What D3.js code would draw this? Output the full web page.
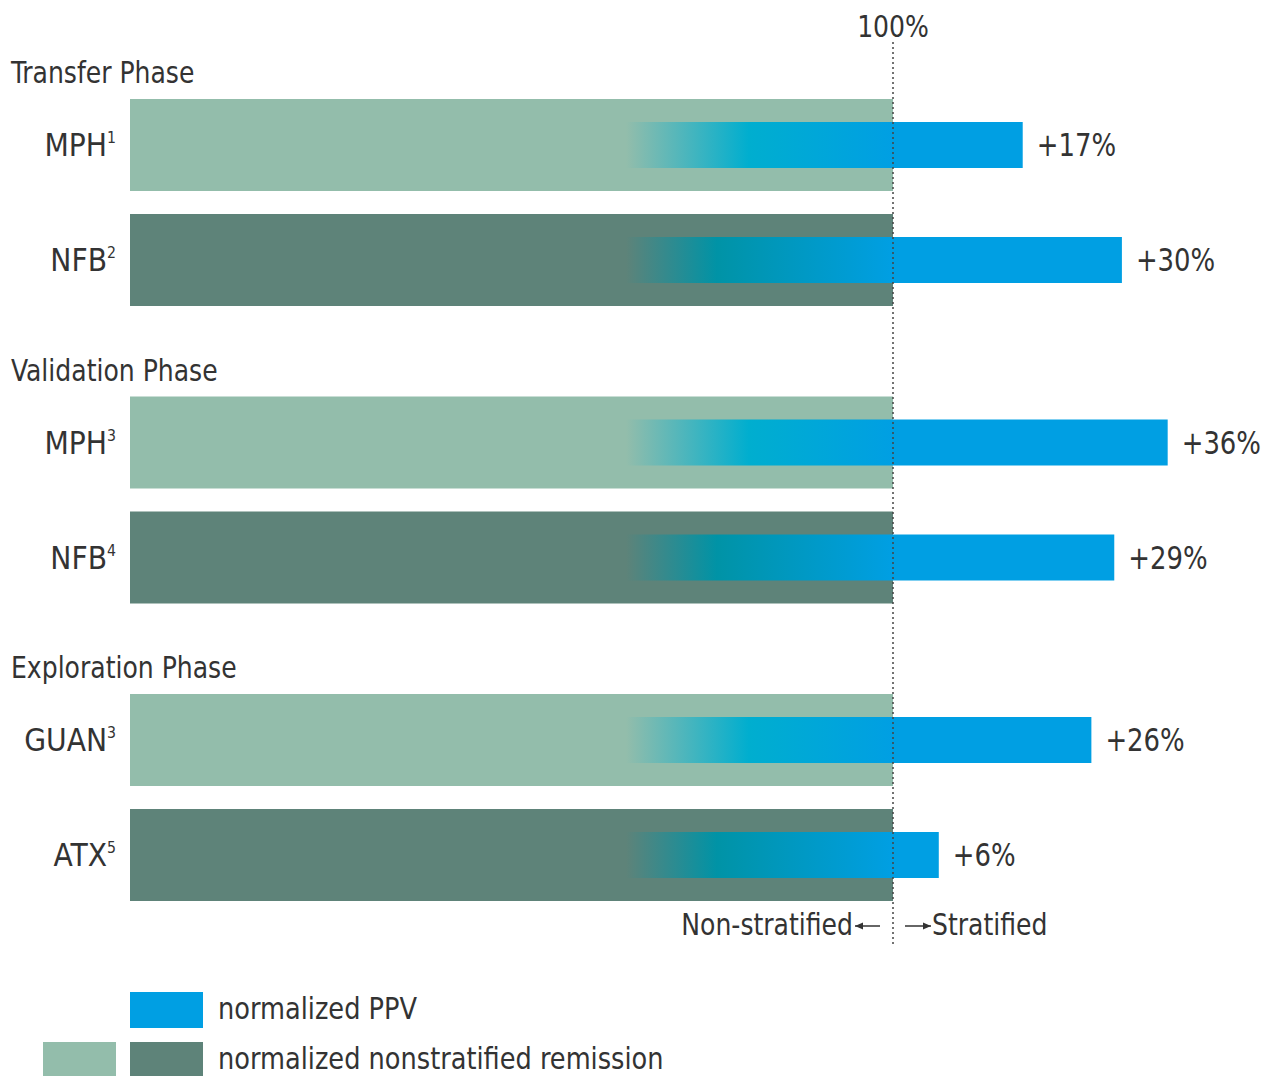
<!DOCTYPE html>
<html>
<head>
<meta charset="utf-8">
<script src="https://cdn.jsdelivr.net/npm/d3@7"></script>
<style>
  body { margin: 0; background: #fff; }
  text { font-family: "DejaVu Sans Condensed", "Roboto", sans-serif; fill: #333; }
</style>
</head>
<body>
<div id="chart"></div>
<script>
// data
const phases = ["Transfer Phase", "Validation Phase", "Exploration Phase"];
const labels = ["MPH", "NFB", "MPH", "NFB", "GUAN", "ATX"];
const refs = ["1", "2", "3", "4", "3", "5"];
const rowPhase = [0, 0, 1, 1, 2, 2];
const baseline = [100, 100, 100, 100, 100, 100];
const gain = [17, 30, 36, 29, 26, 6];

const W = 1272, H = 1076;
const SX = 0.9; // horizontal squeeze to mimic the condensed face
const svg = d3.select("#chart").append("svg")
  .attr("width", W).attr("height", H);

const x = d3.scaleLinear().domain([0, 100]).range([130, 893]);

// row centres: three phase groups, two rows each
const rowCenter = i => 145 + rowPhase[i] * 297.5 + (i % 2) * 115;
const bigH = 92, smallH = 46;

const defs = svg.append("defs");
function grad(id, stops) {
  const g = defs.append("linearGradient").attr("id", id)
    .attr("gradientUnits", "userSpaceOnUse")
    .attr("x1", x(65)).attr("x2", x(100)).attr("y1", 0).attr("y2", 0);
  stops.forEach(s => g.append("stop").attr("offset", s[0]).attr("stop-color", s[1]));
}
grad("gLight", [[0, "#93bdab"], [0.46, "#00aecf"], [1, "#009fe3"]]);
grad("gDark", [[0, "#5e8379"], [0.34, "#0093a6"], [1, "#009fe3"]]);

const light = "#93bdab", dark = "#5e8379", blue = "#009fe3";

function label(px, py, str, size, anchor, sx) {
  return svg.append("text")
    .attr("transform", `translate(${px},${py}) scale(${sx || SX},1)`)
    .attr("text-anchor", anchor || "start")
    .attr("font-size", size)
    .text(str);
}

// phase headers
phases.forEach((d, i) => label(11, 83 + i * 297.5, d, 31));

// baseline bars
svg.selectAll(".base").data(baseline).enter().append("rect")
  .attr("x", x(0))
  .attr("y", (d, i) => rowCenter(i) - bigH / 2)
  .attr("width", d => x(d) - x(0))
  .attr("height", bigH)
  .attr("fill", (d, i) => i % 2 ? dark : light);

// gradient part inside baseline
svg.selectAll(".fade").data(baseline).enter().append("rect")
  .attr("x", x(65))
  .attr("y", (d, i) => rowCenter(i) - smallH / 2)
  .attr("width", d => x(d) - x(65))
  .attr("height", smallH)
  .attr("fill", (d, i) => i % 2 ? "url(#gDark)" : "url(#gLight)");

// gain bars
svg.selectAll(".gain").data(gain).enter().append("rect")
  .attr("x", x(100))
  .attr("y", (d, i) => rowCenter(i) - smallH / 2)
  .attr("width", d => x(100 + d) - x(100))
  .attr("height", smallH)
  .attr("fill", blue);

gain.forEach((d, i) => label(x(100 + d) + 14, rowCenter(i) + 11, "+" + d + "%", 32));

// row labels with superscripts
labels.forEach((d, i) => {
  const t = label(116, rowCenter(i) + 11, null, 32, "end", 0.98);
  t.append("tspan").text(d);
  t.append("tspan").attr("font-size", 16).attr("dy", -13).text(refs[i]);
});

// 100% line
svg.append("line")
  .attr("x1", x(100)).attr("x2", x(100))
  .attr("y1", 42).attr("y2", 946)
  .attr("stroke", "#444").attr("stroke-width", 1.5)
  .attr("stroke-dasharray", "2,3");

label(x(100), 37, "100%", 31, "middle");

// direction labels
label(853, 935, "Non-stratified", 31, "end");
label(932, 935, "Stratified", 31);

function arrow(x1, x2, y) {
  svg.append("line").attr("x1", x1).attr("x2", x2).attr("y1", y).attr("y2", y)
    .attr("stroke", "#333").attr("stroke-width", 1.5);
  const dir = Math.sign(x2 - x1);
  svg.append("path")
    .attr("d", `M${x2},${y} L${x2 - dir * 8},${y - 3.5} L${x2 - dir * 8},${y + 3.5} Z`)
    .attr("fill", "#333");
}
arrow(880, 855, 926);
arrow(905, 931, 926);

// legend
svg.append("rect").attr("x", 130).attr("y", 992).attr("width", 73).attr("height", 36).attr("fill", blue);
svg.append("rect").attr("x", 43).attr("y", 1042).attr("width", 73).attr("height", 40).attr("fill", light);
svg.append("rect").attr("x", 130).attr("y", 1042).attr("width", 73).attr("height", 40).attr("fill", dark);
label(218, 1019, "normalized PPV", 31, "start", 0.92);
label(218, 1069, "normalized nonstratified remission", 31, "start", 0.92);
</script>
</body>
</html>
